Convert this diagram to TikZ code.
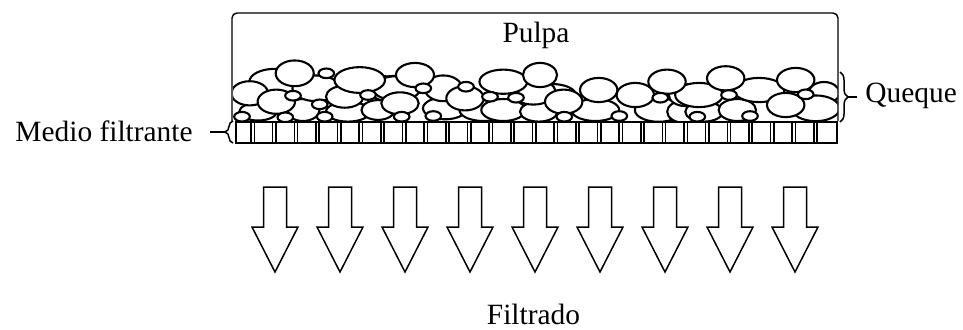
\documentclass[tikz,border=0pt]{standalone}
\usepackage{fontspec}
\setmainfont{Liberation Serif}
\usetikzlibrary{decorations.pathreplacing}

\tikzset{
  particle/.style={draw,fill=white,line width=1.05pt},
  flowarrow/.style={draw,fill=white,line width=0.75pt,line join=miter},
  label/.style={font=\fontsize{14.7}{16}\selectfont,inner sep=0pt,anchor=base},
  brc/.style={decorate,decoration={brace,amplitude=4pt},line width=0.75pt}
}

\begin{document}
\begin{tikzpicture}[x=0.5pt,y=-0.5pt]
\useasboundingbox (0,0) rectangle (963,329);

% particles of the cake, clipped to the vessel
\begin{scope}
\clip (233,14) rectangle (837.5,122);
% back layer
\foreach \x/\y/\a/\b in {274.7/81.7/23/11.7, 395/88/22/11, 552/95/21.7/10,
  824/93/14/10, 384.7/88.3/14/11}
  \draw[particle] (\x,\y) ellipse[x radius=1.1*\a, y radius=1.1*\b];
% bottom layer
\foreach \x/\y/\a/\b in {258/111.7/17/8, 303/110/15/10, 348/111.7/20/9,
  378/110/15/9, 445/108.3/20/10, 483.3/110/21.7/10, 503.3/110/20/10,
  538.7/111.7/17/9, 595.3/110/21.7/10, 658.7/110/21.7/10.7, 683.7/111.7/15/10,
  704/111.7/17/9, 737.3/110/17/10, 815.7/108.3/21.7/11.7}
  \draw[particle] (\x,\y) ellipse[x radius=1.1*\a, y radius=1.1*\b];
% middle layer
\foreach \x/\y/\a/\b in {249.7/93.3/16.7/11, 316.3/88.3/21.7/11.7,
  344.7/96.7/17/10, 276.3/101.7/17/11, 396.7/88.3/21.7/11, 400/103.3/17/10,
  443.3/88.3/17/11.7, 465/98.3/17/11, 533.3/91.7/20/11.7, 563.7/101.7/17/11,
  598.7/90/17/11, 635.3/95/17/11, 685.3/95/15/10, 699/95/21.7/11,
  759/90/23/11, 785.7/105/17/11}
  \draw[particle] (\x,\y) ellipse[x radius=1.1*\a, y radius=1.1*\b];
% top layer
\foreach \x/\y/\a/\b in {294.7/73.3/17.3/11.7, 359.7/80/23/11.7,
  415/75/17.3/11, 503.3/81.7/21.7/11, 540/75/15.5/11, 667/81.7/17/11,
  725.7/78.3/17/11, 795.7/80/17/11}
  \draw[particle] (\x,\y) ellipse[x radius=1.1*\a, y radius=1.1*\b];
% small grains
\foreach \x/\y in {242/116.7, 285.3/117.3, 324.7/116.7, 319.7/104.3,
  293/95.7, 368/95, 401.7/116.7, 433.3/116, 423.3/88.3, 466/86.7,
  490/96.7, 516/97.7, 564.3/116.7, 619.3/116, 660.3/97.7, 729/95,
  805.7/94.3, 697.3/116.7, 750/116, 326.3/73.3}
  \draw[particle] (\x,\y) ellipse[x radius=7.8, y radius=4.8];
\end{scope}

% vessel
\draw[line width=0.7pt,rounded corners=2.5pt] (232,121) -- (232,13) -- (838,13) -- (838,121);

% filter medium
\draw[line width=0.8pt] (236,122) rectangle (837,143);
\foreach \i in {0,...,26}
  \draw[line width=0.8pt] ({251+21.65*\i},122) -- ++(0,21)
    ({254.3+21.65*\i},122) -- ++(0,21);

% filtrate arrows
\foreach \i in {0,...,8}
  \draw[flowarrow] ({275+65*\i-11.5},187) -- ++(23,0) -- ++(0,40) -- ++(11.5,0)
    -- ++(-23,45) -- ++(-23,-45) -- ++(11.5,0) -- cycle;

% labels
\node[label] (pulpa) at (536,42) {Pulpa};
\node[label,anchor=base west] (queque) at (865,102) {Queque};
\node[label,anchor=base east] (medio) at (193,141) {Medio filtrante};
\node[label] (filtrado) at (533.5,324) {Filtrado};

% braces
\coordinate (qtop) at (840,72);
\coordinate (qbot) at (840,122);
\draw[brc] (qtop) -- (qbot);
\draw[line width=0.75pt] (848,97) -- (857,97);
\coordinate (mtop) at (233,121);
\coordinate (mbot) at (233,143);
\draw[brc] (mbot) -- (mtop);
\draw[line width=0.75pt] (225,132) -- (210,132);
\end{tikzpicture}
\end{document}
